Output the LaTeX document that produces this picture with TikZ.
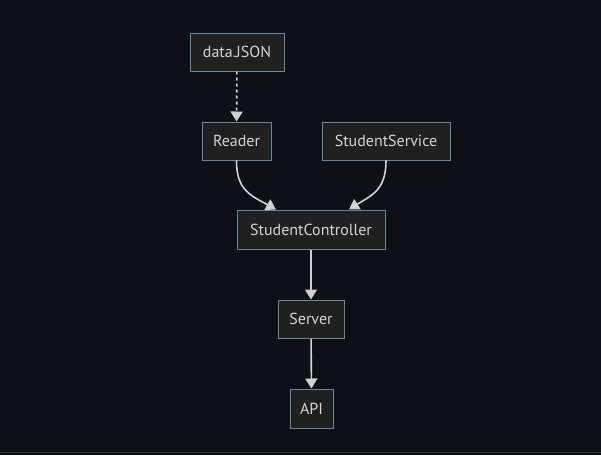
\documentclass[tikz,border=0pt]{standalone}
\usepackage{fontspec}
\setmainfont{PT Sans}
\usetikzlibrary{arrows.meta}
\definecolor{bg}{HTML}{0D1117}
\definecolor{nodefill}{HTML}{1F2020}
\definecolor{nodeborder}{HTML}{6388A6}
\definecolor{txt}{HTML}{D4D4D4}
\definecolor{edge}{HTML}{D0D0D0}
\definecolor{bottomline}{HTML}{2E3B3A}
\tikzset{
  box/.style={draw=nodeborder, fill=nodefill, line width=1pt, text=txt,
    font=\fontsize{16}{19}\selectfont, inner sep=0pt, minimum height=38pt, anchor=center},
  link/.style={draw=edge, line width=1.6pt, -{Triangle[length=10pt,width=12pt]}},
}
\begin{document}
\begin{tikzpicture}[x=1pt,y=-1pt]
\fill[bg] (0,0) rectangle (601,455);
\useasboundingbox (0,0) rectangle (601,455);
\draw[bottomline, line width=1pt] (0,452.5) -- (601,452.5);

\node[box, minimum width=94pt] (json) at (237,52) {data.JSON};
\node[box, minimum width=69pt] (reader) at (236.5,141) {Reader};
\node[box, minimum width=128pt] (service) at (386,141) {StudentService};
\node[box, minimum width=148pt, minimum height=39pt] (ctrl) at (311,229.5) {StudentController};
\node[box, minimum width=66pt] (server) at (311,319) {Server};
\node[box, minimum width=43pt, minimum height=39pt] (api) at (311.5,408.5) {API};

\draw[link, dash pattern=on 3pt off 3pt] (json) -- (reader);
\draw[link] (reader.south) .. controls (236.5,190) and (250,195) .. (ctrl.north -| 276,0);
\draw[link] (service.south) .. controls (386,190) and (372,195) .. (ctrl.north -| 349,0);
\draw[link] (ctrl) -- (server);
\draw[link] (server) -- (api);
\end{tikzpicture}
\end{document}
